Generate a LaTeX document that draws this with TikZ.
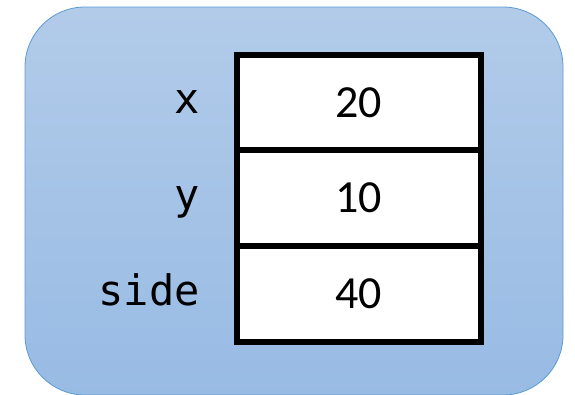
\documentclass[tikz,border=0pt]{standalone}
\usepackage{fontspec}
\setmainfont{Carlito}
\newfontfamily\codefont{DejaVu Sans Mono}
\definecolor{frametop}{RGB}{178,203,233}
\definecolor{framebot}{RGB}{152,187,228}
\definecolor{frameline}{RGB}{91,155,213}
\tikzset{
  frame/.style={draw=frameline, line width=0.8pt, top color=frametop, bottom color=framebot, rounded corners=60pt},
  cell/.style={draw=black, line width=6pt, fill=white, minimum width=244pt, minimum height=95.5pt, inner sep=0pt, font=\fontsize{46}{52}\selectfont},
  varname/.style={anchor=base east, inner sep=0pt, font=\codefont\fontsize{42}{48}\selectfont}
}
\begin{document}
\begin{tikzpicture}[x=1pt,y=-1pt]
\useasboundingbox (0,0) rectangle (575,394);
\path[frame] (25,7) rectangle (563,395);
\node[cell] (c1) at (358.5,102.5) {20};
\node[cell] (c2) at (358.5,198) {10};
\node[cell] (c3) at (358.5,294) {40};
\node[varname] (n1) at (200,113) {x};
\node[varname] (n2) at (200,209) {y};
\node[varname] (n3) at (200,305) {side};
\end{tikzpicture}
\end{document}
